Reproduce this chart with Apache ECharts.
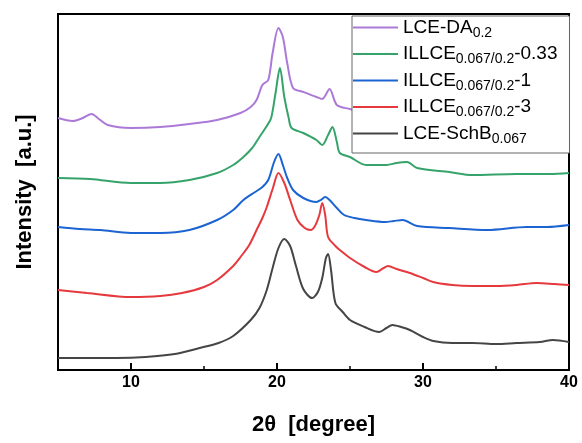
<!DOCTYPE html>
<html><head><meta charset="utf-8">
<script src="https://cdn.jsdelivr.net/npm/echarts@6/dist/echarts.min.js"></script>
<style>html,body{margin:0;padding:0;background:#fff}#c{width:582px;height:443px}</style>
</head><body><div id="c"></div>
<script>
// Series names: main_subscript_suffix
var seriesNames = ['LCE-DA_0.2', 'ILLCE_0.067/0.2_-0.33', 'ILLCE_0.067/0.2_-1', 'ILLCE_0.067/0.2_-3', 'LCE-SchB_0.067'];
var seriesColors = ['#ab7ad8', '#36a46a', '#1c64d1', '#e6393e', '#454545'];

var daX = [5,6,6.7,7.3,7.8,8.4,10,12,14,15.9,17.5,18.2,18.6,19.0,19.4,19.7,20.1,20.4,20.7,21.1,21.8,22.7,23.1,23.6,24.1,25,26,28,30,35,40];
var daY = [252,249,252,256,251,245,242,243,246,250,257,263,270,285,290,317,342,333,307,282,278,273,271,281,265,261,257,255,252,251,253];

var r033X = [5,7.2,10,12,14,15.9,17,17.7,18.3,18.8,19.3,19.6,19.9,20.2,20.5,20.8,21.0,21.8,22.7,23.1,23.5,23.8,24.1,24.3,25,26.1,27.5,28.2,28.9,29.6,31.8,33.4,36.4,38.7,40];
var r033Y = [192,191,187,187,190,197,205,213,222,233,244,252,277,302,273,252,242,237,230,225,235,243,228,217,213,205,205,207,208,202,198,195,196,196,197];

var r1X = [5,6.5,7.9,10,12,14,15.9,17,17.7,18.5,19.0,19.4,19.8,20.1,20.4,20.7,21.1,21.8,22.7,23.0,23.3,23.6,24.1,24.6,25.3,26.1,27.4,28.0,28.6,29.6,31.8,34.4,37.1,38.5,40];
var r1Y = [143,141,140,137,137,140,150,160,170,178,183,190,208,216,205,192,180,172,168,170,173,170,162,155,152,150,148,149,150,144,142,140,143,143,145];

var r3X = [5,7,10,12,13.5,15,15.9,17,17.5,18.1,18.6,19.0,19.3,19.7,20.1,20.5,20.9,21.4,21.9,22.3,22.6,22.9,23.1,23.3,23.5,24.0,24.3,25,26,26.8,27.3,27.6,28.2,29.1,30,30.7,32,33.4,35,36.4,37.8,39,40];
var r3Y = [80,77,73,74,77,83,90,104,113,125,140,152,163,181,197,187,170,150,142,140,144,155,167,155,133,124,120,112,103,98,102,104,101,97,92,88,85,84,84,85,87,86,85];

var schbX = [5,7,9,11,13,14.7,16,17,18.2,18.8,19.3,19.7,20.1,20.5,20.9,21.3,21.8,22.4,22.8,23.1,23.35,23.5,23.7,24.0,24.5,25,26,27,27.5,27.9,28.5,29.1,30,30.7,32,33.4,35,36.4,38,38.9,40];
var schbY = [12,12,12,13,16,22,27,34,50,62,80,102,122,131,124,104,81,72,78,92,112,116,100,67,58,50,43,38,42,45,43,40,33,29,27,27,26,27,28,30,28];

var majorTicks = [10, 20, 30];
var tickLabels = [10, 20, 30, 40];
var minorTicks = [15, 25, 35];

function zip(xs, ys) { return xs.map(function (x, i) { return [x, ys[i]]; }); }
var xs = [daX, r033X, r1X, r3X, schbX];
var ys = [daY, r033Y, r1Y, r3Y, schbY];

var FONT = '"Liberation Sans", Arial, sans-serif';
var chart = echarts.init(document.getElementById('c'));
var series = [];
for (var i = seriesNames.length - 1; i >= 0; i--) {
  series.push({
    name: seriesNames[i], type: 'line', xAxisIndex: 0, yAxisIndex: 0,
    data: zip(xs[i], ys[i]), showSymbol: false, smooth: 0.3,
    lineStyle: { color: seriesColors[i], width: 2 }, itemStyle: { color: seriesColors[i] }
  });
}
chart.setOption({
  animation: false,
  backgroundColor: '#fff',
  grid: { left: 58, right: 13, top: 14, bottom: 73, outerBoundsMode: 'none', containLabel: false,
          show: true, borderColor: '#000', borderWidth: 2 },
  legend: {
    data: seriesNames, orient: 'vertical', left: 352, top: 16,
    icon: 'rect', itemWidth: 45, itemHeight: 2, itemGap: 4.5,
    padding: [2, 12, 7, 1],
    backgroundColor: '#fff', borderColor: '#666', borderWidth: 1, borderRadius: 0,
    formatter: function (name) {
      var p = name.split('_');
      return '{a|' + p[0] + '}{s|' + p[1] + '}' + (p[2] ? '{a|' + p[2] + '}' : '');
    },
    textStyle: {
      fontFamily: FONT, color: '#000',
      rich: {
        a: { fontFamily: FONT, fontSize: 19, color: '#000', lineHeight: 25 },
        s: { fontFamily: FONT, fontSize: 14, color: '#000', lineHeight: 12, verticalAlign: 'bottom' }
      }
    }
  },
  xAxis: [{
    type: 'value', min: 5, max: 40, interval: 5,
    name: '2θ  [degree]', nameLocation: 'middle', nameGap: 44,
    nameTextStyle: { fontFamily: FONT, fontSize: 22, fontWeight: 'bold', color: '#000' },
    axisLine: { show: true, lineStyle: { color: '#000', width: 2 } },
    axisTick: { show: true, inside: true, length: 7, customValues: majorTicks, lineStyle: { color: '#000', width: 2 } },
    axisLabel: { show: true, customValues: tickLabels, margin: 5, fontFamily: FONT, fontSize: 16, fontWeight: 'bold', color: '#000' },
    splitLine: { show: false }
  }, {
    type: 'value', min: 5, max: 40, interval: 5, position: 'bottom',
    axisLine: { show: false },
    axisTick: { show: true, inside: true, length: 4, customValues: minorTicks, lineStyle: { color: '#000', width: 1.5 } },
    axisLabel: { show: false }, splitLine: { show: false }
  }],
  yAxis: {
    type: 'value', min: 0, max: 356,
    name: 'Intensity  [a.u.]', nameLocation: 'middle', nameGap: 22,
    nameTextStyle: { fontFamily: FONT, fontSize: 22, fontWeight: 'bold', color: '#000' },
    axisLine: { show: true, lineStyle: { color: '#000', width: 2 } },
    axisTick: { show: false }, axisLabel: { show: false }, splitLine: { show: false }
  },
  series: series
});
</script></body></html>
